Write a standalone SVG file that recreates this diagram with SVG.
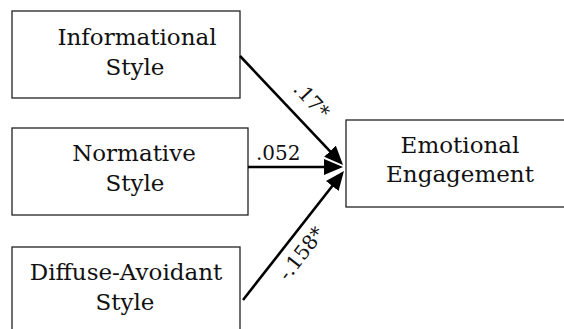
<svg xmlns="http://www.w3.org/2000/svg" width="564" height="329" viewBox="0 0 564 329">
<style>
.box{fill:#fff;stroke:#222;stroke-width:1.3}
.t{font-family:"DejaVu Serif","Liberation Serif",serif;font-size:23px;fill:#111;text-anchor:middle}
.lbl{font-family:"DejaVu Serif","Liberation Serif",serif;font-size:20px;fill:#111}
.edge{stroke:#000;stroke-width:2.6;fill:none}
</style>
<defs>
<marker id="ah" markerUnits="userSpaceOnUse" markerWidth="19" markerHeight="16" refX="15" refY="8" orient="auto">
<path d="M0,0 L19,8 L0,16 z" fill="#000"/>
</marker>
</defs>
<rect width="564" height="329" fill="#fff"/>
<g id="informational">
<rect class="box" x="12" y="11" width="228" height="87"/>
<text class="t" x="137" y="45">Informational</text>
<text class="t" x="135" y="75">Style</text>
</g>
<g id="normative">
<rect class="box" x="12" y="128" width="236" height="87"/>
<text class="t" x="134" y="161">Normative</text>
<text class="t" x="135" y="191">Style</text>
</g>
<g id="diffuse">
<rect class="box" x="12" y="247" width="228" height="100"/>
<text class="t" x="126" y="280">Diffuse-Avoidant</text>
<text class="t" x="125" y="310">Style</text>
</g>
<g id="emotional">
<rect class="box" x="346" y="120" width="240" height="87"/>
<text class="t" x="460" y="153">Emotional</text>
<text class="t" x="460" y="182">Engagement</text>
</g>
<g id="connectors">
<line class="edge" x1="240" y1="56" x2="340.3" y2="162.1" marker-end="url(#ah)"/>
<line class="edge" x1="248" y1="167" x2="339" y2="167" marker-end="url(#ah)"/>
<line class="edge" x1="243" y1="300" x2="341.5" y2="174.2" marker-end="url(#ah)"/>
<text class="lbl" x="256" y="160">.052</text>
<text class="lbl" text-anchor="middle" transform="translate(311,101) rotate(47)" y="6">.17*</text>
<text class="lbl" text-anchor="middle" transform="translate(302,254) rotate(-52)" y="6">-.158*</text>
</g>
</svg>
